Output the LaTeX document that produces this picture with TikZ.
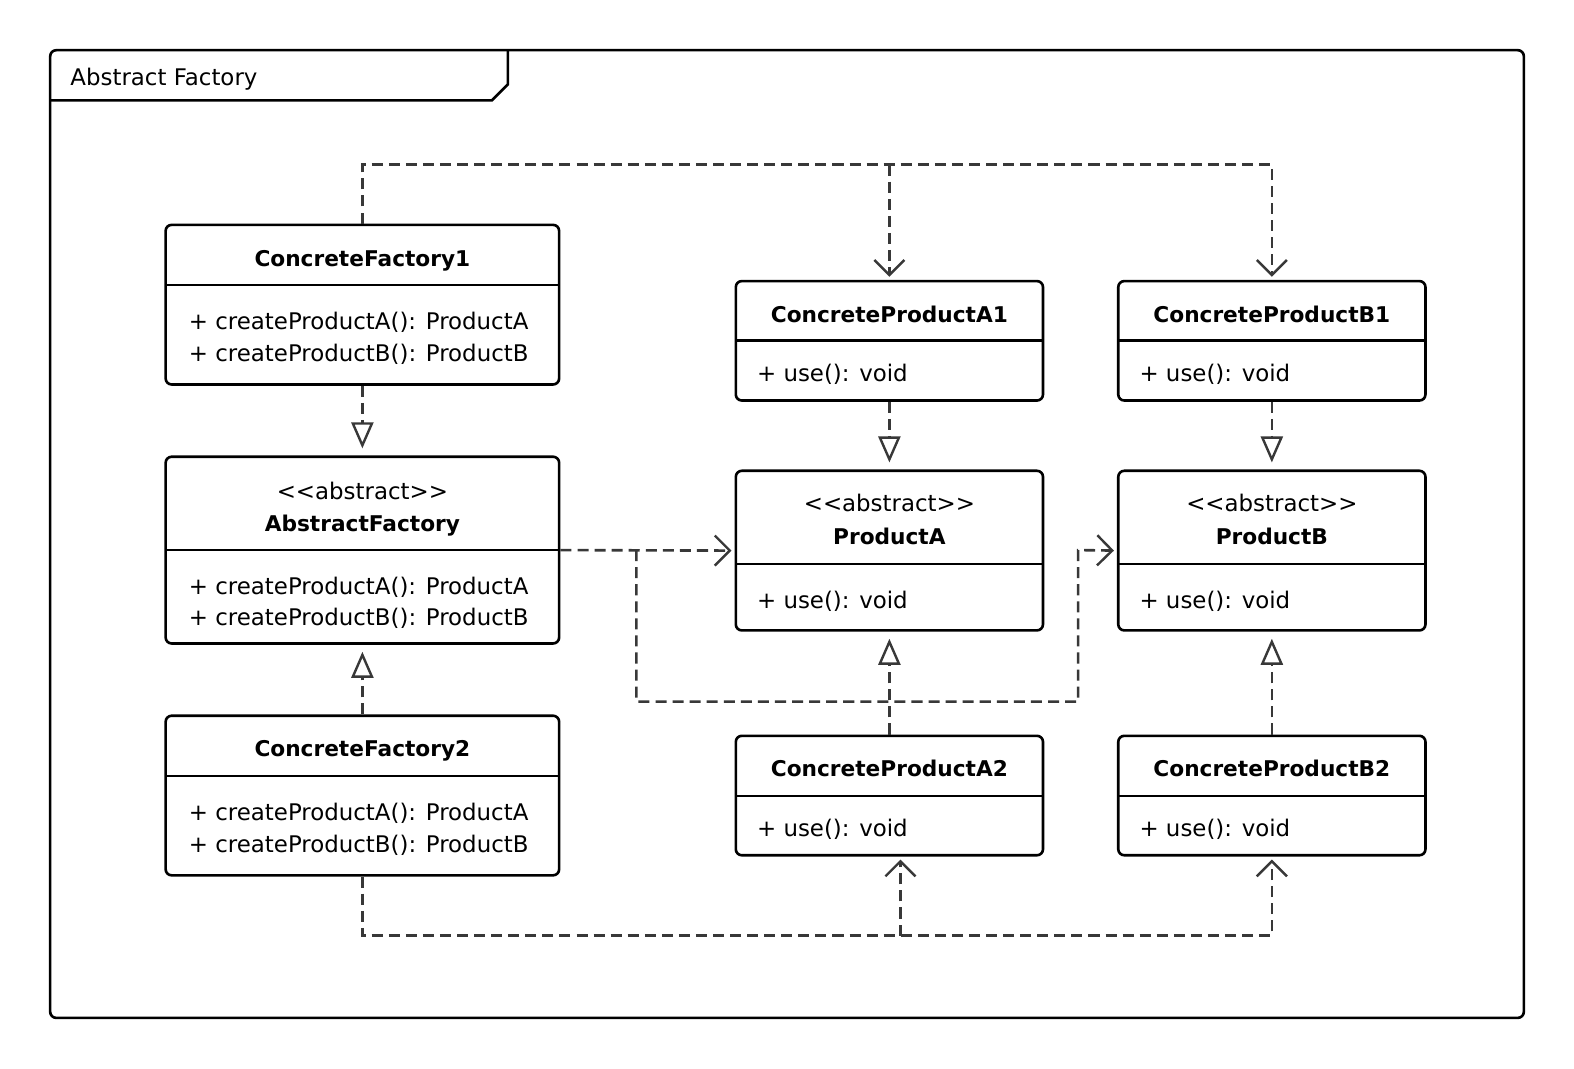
\documentclass[tikz,border=0pt]{standalone}
\usepackage{fontspec}
\setmainfont{DejaVu Sans}
\usetikzlibrary{arrows.meta,fit}
\tikzset{
  box/.style={draw=black, line width=2.6pt, rounded corners=6pt, inner sep=0pt},
  divline/.style={draw=black, line width=2.6pt},
  conn/.style={draw=black!78, line width=2.6pt, dash pattern=on 11pt off 6pt},
  openarr/.style={-{Straight Barb[length=15pt,width=30pt,line width=2.4pt]}, shorten >=3pt},
  realize/.style={-{Triangle[open,length=26pt,width=22pt,line width=2.4pt]}, shorten >=7pt},
  ttl/.style={anchor=base, inner sep=0pt, font=\fontsize{21.6}{26}\selectfont\bfseries},
  ster/.style={anchor=base, inner sep=0pt},
  meth/.style={anchor=base west, inner sep=0pt},
}
\newcommand\umlbox[6]{%
  \node[box, fit={(#2,#3)(#4,#5)}] (#1) {};
  \draw[divline] (#2,#6) -- (#4,#6);
}
\newcommand\stereo{\mbox{<}\mbox{<}abstract\mbox{>}\mbox{>}}
\begin{document}
\begin{tikzpicture}[x=1pt,y=-1pt,font=\fontsize{22.8}{28}\selectfont]
\useasboundingbox (0,0) rectangle (1568,1064);
% frame
\draw[line width=2.6pt, rounded corners=6pt] (50,50) rectangle (1518,1014);
\draw[line width=2.6pt] (50,100) -- (490,100) -- (506,84) -- (506,50);
\node[anchor=base west, inner sep=0pt] (frametitle) at (70,85) {Abstract Factory};

% boxes
\umlbox{cf1}{165}{224}{557}{383}{284}
\node[ttl] (cf1t) at (361,265) {ConcreteFactory1};
\node[meth] (cf1m1) at (188,328) {+ createProductA(): ProductA};
\node[meth] (cf1m2) at (188,360) {+ createProductB(): ProductB};

\umlbox{af}{165}{455}{557}{641}{548}
\node[ster] (afs) at (361,498) {\stereo};
\node[ttl] (aft) at (361,529) {AbstractFactory};
\node[meth] (afm1) at (188,592) {+ createProductA(): ProductA};
\node[meth] (afm2) at (188,623) {+ createProductB(): ProductB};

\umlbox{cf2}{165}{713}{557}{872}{773}
\node[ttl] (cf2t) at (361,754) {ConcreteFactory2};
\node[meth] (cf2m1) at (188,817) {+ createProductA(): ProductA};
\node[meth] (cf2m2) at (188,849) {+ createProductB(): ProductB};

\umlbox{a1}{733}{280}{1039}{399}{339}
\node[ttl] (a1t) at (886,321) {ConcreteProductA1};
\node[meth] (a1m) at (754,380) {+ use(): void};

\umlbox{pa}{733}{469}{1039}{628}{562}
\node[ster] (pas) at (886,510) {\stereo};
\node[ttl] (pat) at (886,542) {ProductA};
\node[meth] (pam) at (754,606) {+ use(): void};

\umlbox{a2}{733}{733}{1039}{852}{793}
\node[ttl] (a2t) at (886,774) {ConcreteProductA2};
\node[meth] (a2m) at (754,833) {+ use(): void};

\umlbox{b1}{1114}{280}{1420}{399}{339}
\node[ttl] (b1t) at (1267,321) {ConcreteProductB1};
\node[meth] (b1m) at (1135,380) {+ use(): void};

\umlbox{pb}{1114}{469}{1420}{628}{562}
\node[ster] (pbs) at (1267,510) {\stereo};
\node[ttl] (pbt) at (1267,542) {ProductB};
\node[meth] (pbm) at (1135,606) {+ use(): void};

\umlbox{b2}{1114}{733}{1420}{852}{793}
\node[ttl] (b2t) at (1267,774) {ConcreteProductB2};
\node[meth] (b2m) at (1135,833) {+ use(): void};

% helper coordinates
\coordinate (topy) at (0,164);
\coordinate (boty) at (0,932);
\coordinate (j1) at (634,548);
\coordinate (j2) at (634,699);
\coordinate (j3) at (1074,699);
\coordinate (j4) at (1074,548);
\coordinate (jb) at (897,932);

% realizations
\draw[conn, realize] (cf1.south) -- (af.north);
\draw[conn, realize] (cf2.north) -- (af.south);
\draw[conn, realize] (a1.south) -- (pa.north);
\draw[conn, realize] (a2.north) -- (pa.south);
\draw[conn, realize] (b1.south) -- (pb.north);
\draw[conn, realize] (b2.north) -- (pb.south);

% dependencies top
\draw[conn, openarr] (cf1.north) -- (cf1.north |- topy) -| (b1.north);
\draw[conn, openarr] (a1.north |- topy) -- (a1.north);

% dependencies middle
\draw[conn, openarr] (af.east) -- (pa.west);
\draw[conn, openarr] (j1) -- (j2) -- (j3) -- (j4) -- (pb.west);

% dependencies bottom
\draw[conn, openarr] (cf2.south) -- (cf2.south |- boty) -| (b2.south);
\draw[conn, openarr] (jb) -- (jb |- a2.south);
\end{tikzpicture}
\end{document}
